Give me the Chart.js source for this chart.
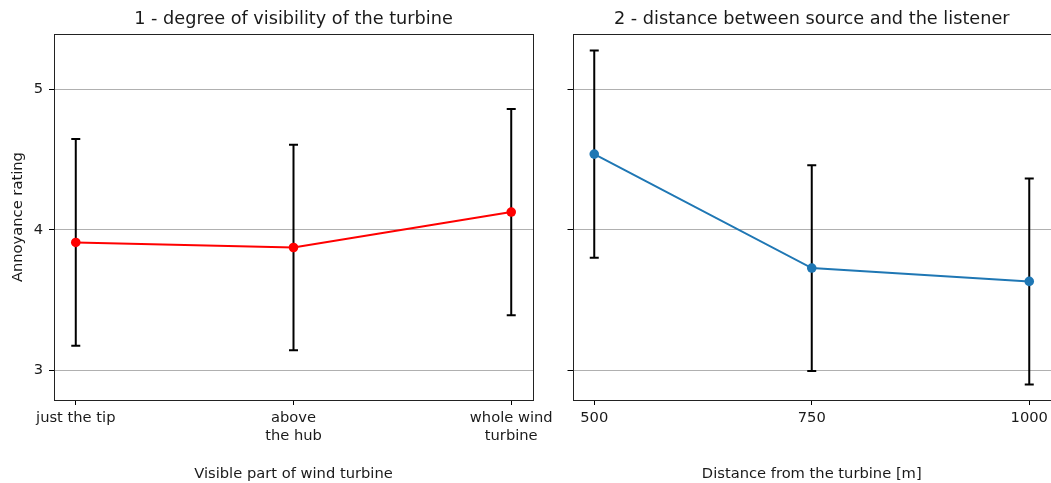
<!DOCTYPE html>
<html>
<head>
<meta charset="utf-8">
<script src="https://cdn.jsdelivr.net/npm/chart.js@4.4.0/dist/chart.umd.min.js"></script>
<style>
  html, body { margin: 0; padding: 0; background: #fff; }
  #wrap { position: relative; width: 1051px; height: 483px; overflow: hidden; background: #fff; }
  canvas { position: absolute; top: 0; }
  #c1 { left: 0; }
  #c2 { left: 541px; }
</style>
</head>
<body>
<div id="wrap">
  <canvas id="c1" width="560" height="483"></canvas>
  <canvas id="c2" width="510" height="483"></canvas>
</div>
<script>
// ---- Data ----
const visCategories = [['just the tip'], ['above', 'the hub'], ['whole wind', 'turbine']];
const visMeans = [3.910, 3.874, 4.126];
const visErrors = [0.735, 0.731, 0.733];

const distCategories = [500, 750, 1000];
const distMeans = [4.538, 3.728, 3.633];
const distErrors = [0.737, 0.731, 0.732];

const yTicks = [3, 4, 5];
const titles = ['1 - degree of visibility of the turbine', '2 - distance between source and the listener'];
const xTitles = ['Visible part of wind turbine', 'Distance from the turbine [m]'];
const yTitle = 'Annoyance rating';

// ---- Style ----
const FONT = 'DejaVu Sans';
const TEXT = '#1a1a1a';
Chart.defaults.font.family = FONT;
Chart.defaults.color = TEXT;

const errorBarPlugin = {
  id: 'errorBars',
  beforeDatasetsDraw(chart) {
    const ctx = chart.ctx;
    const xs = chart.scales.x, ys = chart.scales.y;
    chart.data.datasets.forEach(ds => {
      if (!ds.errors) return;
      ctx.save();
      ctx.strokeStyle = '#000';
      ctx.lineWidth = 2;
      ds.data.forEach((p, i) => {
        const e = ds.errors[i];
        const px = xs.getPixelForValue(p.x);
        const top = ys.getPixelForValue(p.y + e);
        const bot = ys.getPixelForValue(p.y - e);
        ctx.beginPath();
        ctx.moveTo(px, top); ctx.lineTo(px, bot);
        ctx.moveTo(px - 4.5, top); ctx.lineTo(px + 4.5, top);
        ctx.moveTo(px - 4.5, bot); ctx.lineTo(px + 4.5, bot);
        ctx.stroke();
      });
      ctx.restore();
    });
  }
};

const framePlugin = {
  id: 'frame',
  afterDatasetsDraw(chart) {
    const {ctx, chartArea: a} = chart;
    ctx.save();
    ctx.strokeStyle = '#222';
    ctx.lineWidth = 1;
    ctx.strokeRect(Math.round(a.left) + 0.5, Math.round(a.top) + 0.5,
                   Math.round(a.right - a.left), Math.round(a.bottom - a.top));
    ctx.restore();
  }
};

function makeChart(canvasId, opts) {
  const points = opts.xValues.map((x, i) => ({x: x, y: opts.means[i]}));
  return new Chart(document.getElementById(canvasId), {
    type: 'line',
    data: {
      datasets: [{
        data: points,
        errors: opts.errors,
        borderColor: opts.color,
        backgroundColor: opts.color,
        borderWidth: 2,
        pointRadius: 4.8,
        pointHoverRadius: 4.8,
        pointBorderWidth: 0,
        tension: 0
      }]
    },
    options: {
      responsive: false,
      animation: false,
      devicePixelRatio: 1,
      events: [],
      layout: { autoPadding: false, padding: { left: 0, right: opts.padRight, top: 0, bottom: 0 } },
      plugins: {
        legend: { display: false },
        tooltip: { enabled: false },
        title: {
          display: true,
          text: opts.title,
          fullSize: false,
          color: TEXT,
          font: { family: FONT, size: 17.7, weight: 'normal', lineHeight: 1.2 },
          padding: { top: 9, bottom: 4 }
        }
      },
      scales: {
        x: {
          type: 'linear',
          min: opts.xMin,
          max: opts.xMax,
          afterBuildTicks: s => { s.ticks = opts.xValues.map(v => ({value: v})); },
          afterFit: s => { s.height = 83; s.paddingLeft = 0; s.paddingRight = 0; },
          border: { display: false },
          grid: { drawOnChartArea: false, drawTicks: true, tickLength: 5, tickColor: '#000', tickWidth: 1 },
          ticks: {
            color: TEXT,
            padding: 5,
            maxRotation: 0,
            autoSkip: false,
            font: { family: FONT, size: 14.7, lineHeight: 1.17 },
            callback: (v) => opts.labelFor(v)
          },
          title: {
            display: true,
            text: opts.xTitle,
            color: TEXT,
            font: { family: FONT, size: 14.7, lineHeight: 1.2 },
            padding: { top: 0, bottom: 0 }
          }
        },
        y: {
          type: 'linear',
          min: 2.79,
          max: 5.39,
          afterBuildTicks: s => { s.ticks = yTicks.map(v => ({value: v})); },
          afterFit: s => { s.width = opts.yWidth; s.paddingTop = 0; s.paddingBottom = 0; },
          border: { display: false },
          grid: { color: '#b0b0b0', lineWidth: 1, drawTicks: true, tickLength: 5, tickColor: '#000', tickWidth: 1 },
          ticks: {
            color: TEXT,
            padding: 6,
            font: { family: FONT, size: 14.7 },
            callback: (v) => opts.showYLabels ? String(v) : ''
          },
          title: {
            display: opts.showYTitle,
            text: yTitle,
            color: TEXT,
            font: { family: FONT, size: 14.7, lineHeight: 1.2 },
            padding: { top: 9, bottom: 0 }
          }
        }
      }
    },
    plugins: [errorBarPlugin, framePlugin]
  });
}

const visIdx = visCategories.map((c, i) => i);
makeChart('c1', {
  xValues: visIdx,
  means: visMeans,
  errors: visErrors,
  color: '#ff0000',
  xMin: -0.1, xMax: 2.1,
  labelFor: v => visCategories[Math.round(v)],
  title: titles[0],
  xTitle: xTitles[0],
  yWidth: 54,
  padRight: 27,
  showYLabels: true,
  showYTitle: true
});

makeChart('c2', {
  xValues: distCategories,
  means: distMeans,
  errors: distErrors,
  color: '#1f77b4',
  xMin: 475, xMax: 1025,
  labelFor: v => String(v),
  title: titles[1],
  xTitle: xTitles[1],
  yWidth: 31.5,
  padRight: 0,
  showYLabels: false,
  showYTitle: false
});
</script>
</body>
</html>
